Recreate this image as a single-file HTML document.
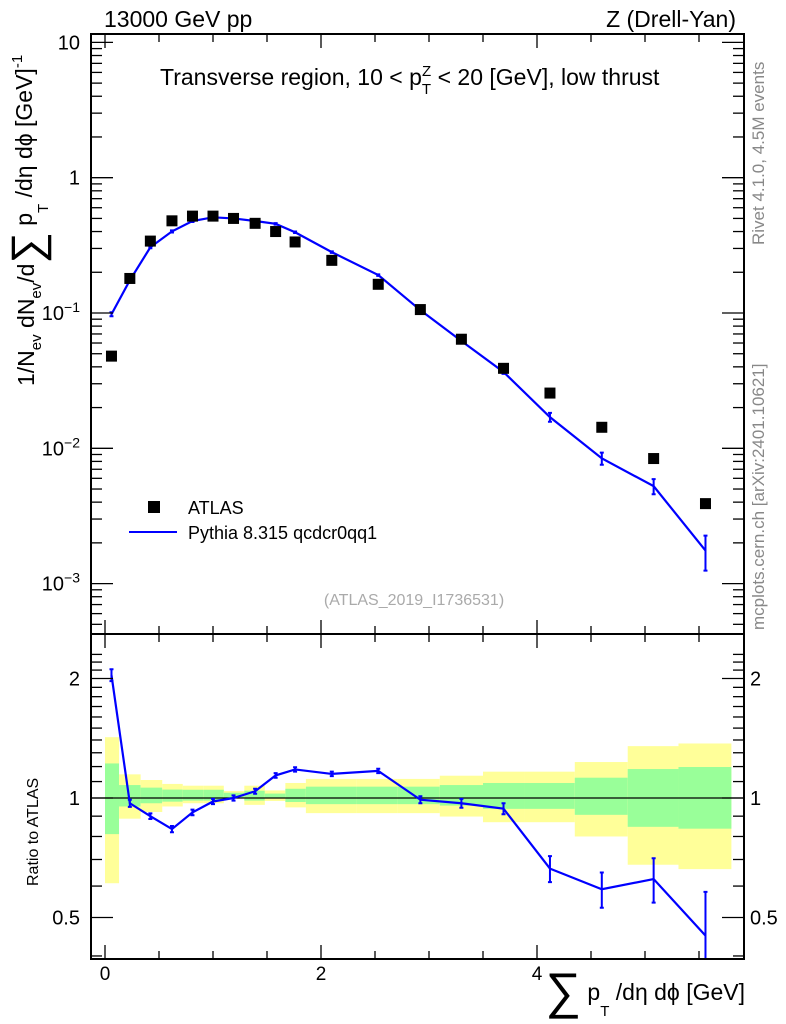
<!DOCTYPE html>
<html><head><meta charset="utf-8"><style>
body{margin:0;background:#fff;}
svg{display:block;font-family:"Liberation Sans",sans-serif;}
</style></head><body>
<svg id="chart" width="786" height="1024" viewBox="0 0 786 1024" xmlns="http://www.w3.org/2000/svg">
<g id="bands"></g><g id="ratioLayer"></g><g id="mainLayer"></g><g id="axes"></g>
<text x="104" y="27" font-size="23">13000 GeV pp</text>
<text x="736" y="27" font-size="23" text-anchor="end">Z (Drell-Yan)</text>
<text x="160" y="85" font-size="23">Transverse region, 10 &lt; p<tspan font-size="15" dy="9">T</tspan><tspan font-size="15" dx="-9" dy="-18">Z</tspan><tspan dy="9"> &lt; 20 [GeV], low thrust</tspan></text>
<text x="414" y="605" font-size="16" fill="#aaa" text-anchor="middle">(ATLAS_2019_I1736531)</text>
<text transform="translate(764,245) rotate(-90)" font-size="17" fill="#888">Rivet 4.1.0,  4.5M events</text>
<text transform="translate(764,630) rotate(-90)" font-size="17" fill="#888">mcplots.cern.ch [arXiv:2401.10621]</text>
<text transform="translate(34,386) rotate(-90)" font-size="23">1/N<tspan font-size="15" dy="7">ev</tspan><tspan dy="-7"> dN</tspan><tspan font-size="15" dy="7">ev</tspan><tspan dy="-7">/d</tspan><tspan font-size="44" dy="8">∑</tspan><tspan dy="-10"> p</tspan><tspan font-size="15" dy="16">T</tspan><tspan dy="-16"> /dη dϕ  [GeV]</tspan><tspan font-size="15" dy="-10">-1</tspan></text>
<text transform="translate(38,886) rotate(-90)" font-size="16">Ratio to ATLAS</text>
<text x="745" y="1000" font-size="23" text-anchor="end"><tspan font-size="50" dy="8">∑</tspan><tspan dy="-8"> p</tspan><tspan font-size="15" dy="16">T</tspan><tspan dy="-16"> /dη dϕ [GeV]</tspan></text>
<g>
<rect x="148" y="501" width="12" height="12" fill="#000"/>
<text x="188" y="514" font-size="18">ATLAS</text>
<line x1="129" y1="532" x2="177" y2="532" stroke="#0000ff" stroke-width="2"/>
<text x="188" y="539" font-size="18">Pythia 8.315 qcdcr0qq1</text>
</g>
</svg>
<script>
const xVals=[0.06,0.23,0.42,0.62,0.81,1.0,1.19,1.39,1.58,1.76,2.1,2.53,2.92,3.3,3.69,4.12,4.6,5.08,5.56];
const binEdges=[0,0.13,0.33,0.53,0.72,0.91,1.1,1.29,1.48,1.67,1.86,2.33,2.71,3.1,3.5,3.88,4.35,4.84,5.31,5.8];
const atlasVals=[0.048,0.18,0.34,0.48,0.52,0.52,0.50,0.46,0.40,0.335,0.245,0.163,0.106,0.064,0.039,0.0256,0.0143,0.0084,0.0039];
const ratioVals=[2.04,0.97,0.90,0.835,0.92,0.98,1.0,1.04,1.14,1.18,1.15,1.17,0.99,0.97,0.94,0.664,0.589,0.625,0.45];
const ratioErrs=[0.07,0.02,0.015,0.015,0.015,0.015,0.015,0.015,0.015,0.015,0.015,0.015,0.02,0.025,0.03,0.05,0.06,0.08,0.13];
const yelHi=[1.423,1.147,1.11,1.085,1.074,1.074,1.041,1.074,1.045,1.091,1.117,1.117,1.117,1.138,1.165,1.165,1.232,1.351,1.372];
const yelLo=[0.61,0.887,0.922,0.952,0.97,0.97,1.008,0.961,0.983,0.947,0.916,0.916,0.916,0.898,0.869,0.869,0.8,0.679,0.662];
const grnHi=[1.222,1.078,1.062,1.05,1.049,1.049,1.031,1.043,1.026,1.055,1.068,1.068,1.068,1.078,1.091,1.091,1.125,1.183,1.197];
const grnLo=[0.811,0.952,0.97,0.979,0.985,0.985,0.997,0.985,0.999,0.977,0.965,0.965,0.965,0.957,0.939,0.939,0.907,0.846,0.837];
const NS='http://www.w3.org/2000/svg';
const L=91,R=744,T=34,MB=634,RB=959;
const X=v=>105+108*v;
const Y=v=>177.7-135.3*Math.log10(v);
const YR=v=>798-119.5*Math.log2(v);
function mk(tag,attrs,parent){const e=document.createElementNS(NS,tag);for(const k in attrs)e.setAttribute(k,attrs[k]);parent.appendChild(e);return e;}
const bands=document.getElementById('bands'),rl=document.getElementById('ratioLayer'),ml=document.getElementById('mainLayer'),ax=document.getElementById('axes');
for(let i=0;i<yelHi.length;i++){
 const x0=X(binEdges[i]),x1=X(binEdges[i+1]);
 const y=mk('rect',{x:x0,y:YR(yelHi[i]),width:x1-x0,height:YR(yelLo[i])-YR(yelHi[i]),fill:'#ffff99'},bands);
 
 
 const g=mk('rect',{x:x0,y:YR(grnHi[i]),width:x1-x0,height:YR(grnLo[i])-YR(grnHi[i]),fill:'#99ff99'},bands);
 
 
}
const one=mk('line',{x1:L,x2:R,y1:YR(1),y2:YR(1),stroke:'#000','stroke-width':1.2},bands);


const clipR=mk('clipPath',{id:'cr'},rl);mk('rect',{x:L,y:MB,width:R-L,height:RB-MB},clipR);
const rg=mk('g',{'clip-path':'url(#cr)'},rl);
const rp=mk('polyline',{points:xVals.map((x,i)=>X(x)+','+YR(ratioVals[i])).join(' '),fill:'none',stroke:'#0000ff','stroke-width':2.2},rg);


xVals.forEach((x,i)=>{
 const a=YR(ratioVals[i]+ratioErrs[i]),b=YR(ratioVals[i]-ratioErrs[i]);
 const e=mk('path',{d:`M${X(x)},${a}V${b}M${X(x)-2},${a}h4M${X(x)-2},${b}h4`,stroke:'#0000ff','stroke-width':2,fill:'none'},rg);
 
 
});
const mcVals=atlasVals.map((a,i)=>a*ratioVals[i]);
const mp=mk('polyline',{points:xVals.map((x,i)=>X(x)+','+Y(mcVals[i])).join(' '),fill:'none',stroke:'#0000ff','stroke-width':2.2},ml);


xVals.forEach((x,i)=>{
 const re=ratioErrs[i]/ratioVals[i];
 const a=Y(mcVals[i]*(1+re)),b=Y(mcVals[i]*(1-re));
 const e=mk('path',{d:`M${X(x)},${a}V${b}M${X(x)-2},${a}h4M${X(x)-2},${b}h4`,stroke:'#0000ff','stroke-width':2,fill:'none'},ml);
 
 
 const r=mk('rect',{x:X(x)-5.5,y:Y(atlasVals[i])-5.5,width:11,height:11,fill:'#000'},ml);
 
 
});
[[T,MB],[MB,RB]].forEach(([t,b])=>{const f=mk('rect',{x:L,y:t,width:R-L,height:b-t,fill:'none',stroke:'#000','stroke-width':2},ax);

});
function line(x1,y1,x2,y2){mk('line',{x1,y1,x2,y2,stroke:'#000','stroke-width':1.3},ax);}
for(let v=0;v<=5.5;v+=0.5){const major=Math.abs(v-Math.round(v/2)*2)<1e-6;const len=major?14:8;const x=X(v);
 line(x,T,x,T+len);line(x,MB,x,MB-len);line(x,MB,x,MB+len);line(x,RB,x,RB-len);}
const xTicks=['0','2','4'];
xTicks.forEach((s,i)=>{const t=mk('text',{x:X(i*2),y:980,'font-size':19,'text-anchor':'middle'},ax);t.textContent=s;
 
 });
for(let d=-4;d<=1;d++){for(let m=1;m<=9;m++){const v=m*Math.pow(10,d);const y=Y(v);if(y<T||y>MB)continue;const len=m==1?22:11;line(L,y,L+len,y);line(R,y,R-len,y);}}
const yTickLabels=['10','1','10⁻¹','10⁻²','10⁻³'];
const yTickVals=[10,1,0.1,0.01,0.001];
yTickVals.forEach((v,i)=>{const t=mk('text',{x:80,y:Y(v)+7,'font-size':20,'text-anchor':'end'},ax);
 if(i<2)t.textContent=yTickLabels[i];else{t.textContent='10';const s=mk('tspan',{'font-size':14,dy:-8},t);s.textContent='−'+(i-1);}
 
 });
const rMinor=[0.4,0.5,0.6,0.7,0.8,0.9,1,1.1,1.2,1.3,1.4,1.5,1.6,1.7,1.8,1.9,2,2.1,2.2,2.3];
rMinor.forEach(v=>{const y=YR(v);if(y<MB||y>RB)return;const len=(v==0.5||v==1||v==2)?22:11;line(L,y,L+len,y);line(R,y,R-len,y);});
const rTickVals=[2,1,0.5];const rTickLabels=['2','1','0.5'];
rTickVals.forEach((v,i)=>{[[80,'end'],[750,'start']].forEach(([x,an])=>{const t=mk('text',{x,y:YR(v)+7,'font-size':20,'text-anchor':an},ax);t.textContent=rTickLabels[i];
 
 });});
</script>
</body></html>
